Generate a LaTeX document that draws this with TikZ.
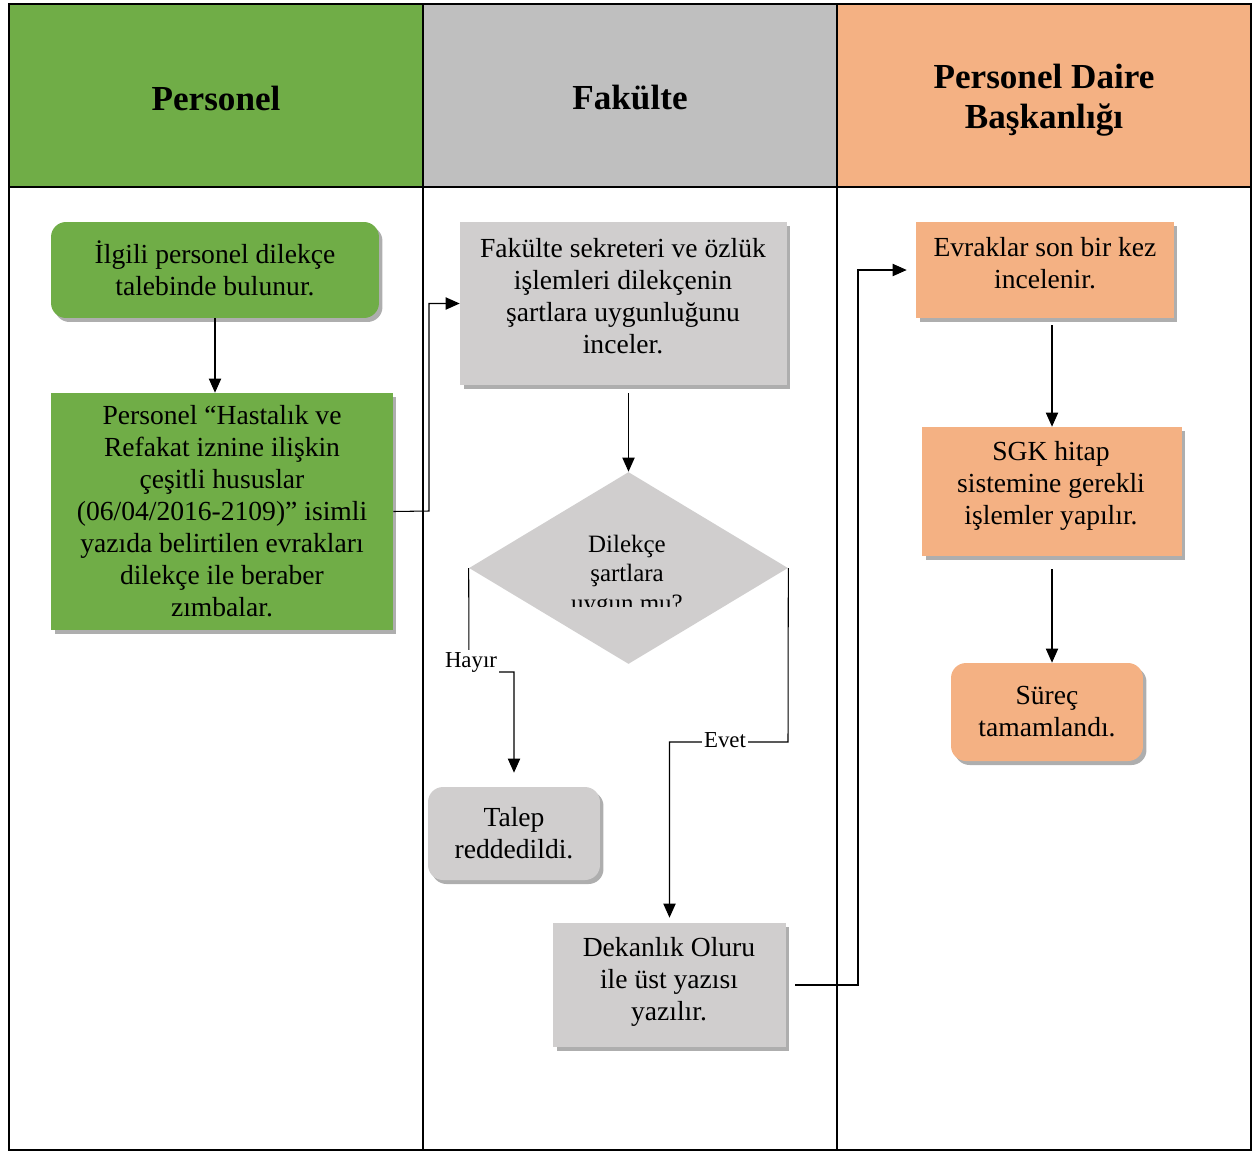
\documentclass[tikz,border=0pt]{standalone}
\usepackage{fontspec}
\setmainfont{Liberation Serif}
\usetikzlibrary{shapes.geometric,arrows.meta,shadows}
\definecolor{hgreen}{HTML}{70AD47}
\definecolor{hgray}{HTML}{BFBFBF}
\definecolor{horange}{HTML}{F4B183}
\definecolor{bgray}{HTML}{D0CECE}
\definecolor{dgray}{HTML}{D0CECE}
\newcommand{\bodyfont}{\fontsize{15.7}{18.2}\selectfont}
\newcommand{\headfont}{\fontsize{20}{22.7}\selectfont\bfseries}
\newcommand{\decfont}{\fontsize{14.2}{17}\selectfont}
\newcommand{\lblfont}{\fontsize{13}{15}\selectfont}
\begin{document}
\begin{tikzpicture}[x=0.02cm,y=-0.02cm,
  shade/.style={drop shadow={shadow xshift=0.07cm,shadow yshift=-0.08cm,fill=black!45,opacity=0.7}},
  procbox/.style={shade,align=center,font=\bodyfont,inner sep=2pt},
  roundbox/.style={procbox,rounded corners=0.3cm},
  boxtext/.style={align=center,font=\bodyfont,inner sep=0pt},
  arr/.style={-{Triangle[length=8pt,width=7pt]},line width=0.6pt},
  lbl/.style={font=\lblfont,fill=white,inner sep=1pt},
  hdr/.style={font=\headfont,align=center}]
\useasboundingbox (0,0) rectangle (1257,1153);

% lane headers
\fill[hgreen] (9,4) rectangle (423,187);
\fill[hgray] (423,4) rectangle (837,187);
\fill[horange] (837,4) rectangle (1251,187);
\node[hdr] (h1) at (216,98) {Personel};
\node[hdr] (h2) at (630,98) {Fakülte};
\node[hdr] (h3) at (1044,100) {Personel Daire\\Başkanlığı};

% lane grid
\draw[line width=0.6pt] (9,187) -- (1251,187);
\draw[line width=0.6pt] (423,4) -- (423,1150) (837,4) -- (837,1150);
\draw[line width=1pt] (9,4) rectangle (1251,1150);

% Personel lane
\node[roundbox,fill=hgreen,minimum width=6.56cm,minimum height=1.92cm] (n1) at (215,270) {};
\node[boxtext] (n1t) at (215,268) {İlgili personel dilekçe\\talebinde bulunur.};
\node[procbox,fill=hgreen,minimum width=6.84cm,minimum height=4.74cm] (n2) at (222,511.5)
  {Personel “Hastalık ve\\Refakat iznine ilişkin\\çeşitli hususlar\\(06/04/2016-2109)” isimli\\yazıda belirtilen evrakları\\dilekçe ile beraber\\zımbalar.};

% Fakülte lane
\node[procbox,fill=bgray,minimum width=6.54cm,minimum height=3.26cm] (n3) at (623.5,303.5) {};
\node[boxtext] (n3t) at (623,296) {Fakülte sekreteri ve özlük\\işlemleri dilekçenin\\şartlara uygunluğunu\\inceler.};
\node[diamond,fill=dgray,minimum width=6.38cm,minimum height=3.84cm,aspect=1.66,inner sep=0pt] (dia) at (628.5,568) {};
\begin{scope}
  % the decision text overflows its box; only the top of the last line shows
  \clip (480,520) rectangle (780,606);
  \node[font=\decfont,align=center] (diatext) at (627,576) {Dilekçe\\şartlara\\uygun mu?};
\end{scope}
\node[roundbox,fill=bgray,minimum width=3.44cm,minimum height=1.86cm] (talep) at (514,833.5)
  {Talep\\reddedildi.};
\node[procbox,fill=bgray,minimum width=4.66cm,minimum height=2.48cm] (dek) at (669.5,985) {};
\node[boxtext] (dekt) at (669,982) {Dekanlık Oluru\\ile üst yazısı\\yazılır.};

% Personel Daire Başkanlığı lane
\node[procbox,fill=horange,minimum width=5.16cm,minimum height=1.92cm] (ev) at (1045,270) {};
\node[boxtext] (evt) at (1045,263) {Evraklar son bir kez\\incelenir.};
\node[procbox,fill=horange,minimum width=5.2cm,minimum height=2.58cm] (sgk) at (1052,491.5) {};
\node[boxtext] (sgkt) at (1051,486) {SGK hitap\\sistemine gerekli\\işlemler yapılır.};
\node[roundbox,fill=horange,minimum width=3.84cm,minimum height=1.96cm] (sur) at (1047,712)
  {Süreç\\tamamlandı.};

% connectors
\coordinate (c2) at (429,511);
\coordinate (hy) at (469,672);
\coordinate (ev1) at (788,742);
\coordinate (dk) at (858,985);

\draw[arr] (n1.south) -- (n1.south |- n2.north);
\draw[arr] (n2.east) -- (c2) |- (n3.west);
\draw[arr,shorten <=0.16cm] (dia.north |- n3.south) -- (dia.north);
\draw[arr,shorten >=0.28cm] (dia.west) -- (hy) -| (talep.north);
\draw[arr,shorten >=0.1cm] (dia.east) -- (ev1) -| (dek.north);
\draw[arr,shorten <=0.18cm,shorten >=0.18cm] (dek.east) -- (dk) |- (ev.west);
\draw[arr,shorten <=0.14cm] (sgk.north |- ev.south) -- (sgk.north);
\draw[arr,shorten <=0.26cm] (sgk.south) -- (sgk.south |- sur.north);

\node[lbl] (lh) at (471,662) {Hayır};
\node[lbl] (le) at (725,740) {Evet};
\end{tikzpicture}
\end{document}
